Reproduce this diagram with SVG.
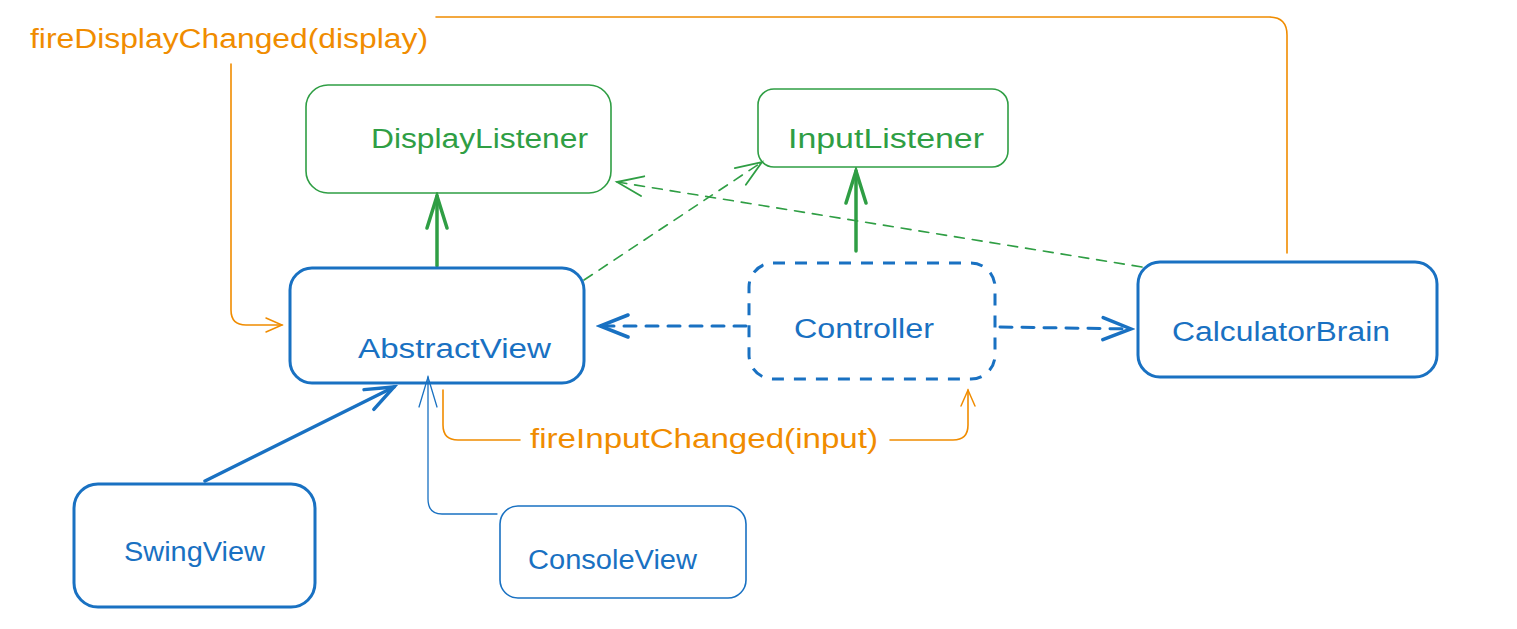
<svg xmlns="http://www.w3.org/2000/svg" width="1517" height="629" viewBox="0 0 1517 629">
<defs>
<style>
.txt{font-family:"Liberation Sans","DejaVu Sans",sans-serif;font-size:27px}
.b{fill:#1971c2}.g{fill:#2f9e44}.o{fill:#f08c00}
.box{fill:none;stroke-linejoin:round}
.line{fill:none;stroke-linecap:round;stroke-linejoin:round}
</style>
<marker id="aO" markerUnits="userSpaceOnUse" viewBox="-20 -12 24 24" refX="0" refY="0" markerWidth="24" markerHeight="24" orient="auto"><path d="M-16,-7 L0,0 L-16,7" fill="none" stroke="#f08c00" stroke-width="1.5" stroke-linecap="round"/></marker>
<marker id="aGt" markerUnits="userSpaceOnUse" viewBox="-36 -15 40 30" refX="0" refY="0" markerWidth="40" markerHeight="30" orient="auto"><path d="M-32,-10 L0,0 L-32,10" fill="none" stroke="#2f9e44" stroke-width="3.5" stroke-linecap="round"/></marker>
<marker id="aGd" markerUnits="userSpaceOnUse" viewBox="-30 -15 34 30" refX="0" refY="0" markerWidth="34" markerHeight="30" orient="auto"><path d="M-26,-10 L0,0 L-26,10" fill="none" stroke="#2f9e44" stroke-width="1.8" stroke-linecap="round"/></marker>
<marker id="aBt" markerUnits="userSpaceOnUse" viewBox="-34 -16 38 32" refX="0" refY="0" markerWidth="38" markerHeight="32" orient="auto"><path d="M-28,-11 L0,0 L-28,11" fill="none" stroke="#1971c2" stroke-width="3.5" stroke-linecap="round"/></marker>
<marker id="aBn" markerUnits="userSpaceOnUse" viewBox="-34 -16 38 32" refX="0" refY="0" markerWidth="38" markerHeight="32" orient="auto"><path d="M-30,-9 L0,0 L-30,9" fill="none" stroke="#1971c2" stroke-width="1.3" stroke-linecap="round"/></marker>
</defs>
<rect width="1517" height="629" fill="#ffffff"/>

<g id="connectors">
  <path class="line" d="M1287,253 L1287,35 Q1287,17 1269,17 L436,17" stroke="#f08c00" stroke-width="1.6"/>
  <path class="line" d="M231,64 L231,310 Q231,325 246,325 L282,325" stroke="#f08c00" stroke-width="1.6" marker-end="url(#aO)"/>
  <text class="txt o" x="30" y="48" textLength="398" lengthAdjust="spacingAndGlyphs">fireDisplayChanged(display)</text>
  <path class="line" d="M443,390 L443,425 Q443,440 458,440 L520,440" stroke="#f08c00" stroke-width="1.6"/>
  <path class="line" d="M890,440 L953,440 Q968,440 968,425 L968,390" stroke="#f08c00" stroke-width="1.6" marker-end="url(#aO)"/>
  <text class="txt o" x="530" y="448" textLength="348" lengthAdjust="spacingAndGlyphs">fireInputChanged(input)</text>
  <path class="line" d="M437,266 L437,196" stroke="#2f9e44" stroke-width="3.5" marker-end="url(#aGt)"/>
  <path class="line" d="M856,251 L856,171" stroke="#2f9e44" stroke-width="3.5" marker-end="url(#aGt)"/>
  <path class="line" d="M584,280 L762,162" stroke="#2f9e44" stroke-width="1.6" stroke-dasharray="10 8" marker-end="url(#aGd)"/>
  <path class="line" d="M1142,267 L617,182" stroke="#2f9e44" stroke-width="1.6" stroke-dasharray="10 8" marker-end="url(#aGd)"/>
  <path class="line" d="M746,326 L600,326" stroke="#1971c2" stroke-width="3" stroke-dasharray="12 10" marker-end="url(#aBt)"/>
  <path class="line" d="M1000,327 L1131,329" stroke="#1971c2" stroke-width="3" stroke-dasharray="12 10" marker-end="url(#aBt)"/>
  <path class="line" d="M205,481 L394,387" stroke="#1971c2" stroke-width="3.5" marker-end="url(#aBt)"/>
  <path class="line" d="M497,514 L442,514 Q428,514 428,499 L428,377" stroke="#1971c2" stroke-width="1.3" marker-end="url(#aBn)"/>
</g>

<g id="DisplayListener">
  <rect class="box" x="306" y="85" width="305" height="108" rx="22" stroke="#2f9e44" stroke-width="1.6"/>
  <text class="txt g" x="371" y="148" textLength="217" lengthAdjust="spacingAndGlyphs">DisplayListener</text>
</g>
<g id="InputListener">
  <rect class="box" x="758" y="89" width="250" height="78" rx="16" stroke="#2f9e44" stroke-width="1.6"/>
  <text class="txt g" x="788" y="148" textLength="196" lengthAdjust="spacingAndGlyphs">InputListener</text>
</g>
<g id="AbstractView">
  <rect class="box" x="290" y="268" width="294" height="115" rx="22" stroke="#1971c2" stroke-width="3"/>
  <text class="txt b" x="358" y="358" textLength="193" lengthAdjust="spacingAndGlyphs">AbstractView</text>
</g>
<g id="Controller">
  <rect class="box" x="749" y="263" width="246" height="116" rx="24" stroke="#1971c2" stroke-width="3" stroke-dasharray="12 10"/>
  <text class="txt b" x="794" y="338" textLength="140" lengthAdjust="spacingAndGlyphs">Controller</text>
</g>
<g id="CalculatorBrain">
  <rect class="box" x="1138" y="262" width="299" height="115" rx="22" stroke="#1971c2" stroke-width="3"/>
  <text class="txt b" x="1172" y="341" textLength="218" lengthAdjust="spacingAndGlyphs">CalculatorBrain</text>
</g>
<g id="SwingView">
  <rect class="box" x="74" y="484" width="241" height="123" rx="24" stroke="#1971c2" stroke-width="3"/>
  <text class="txt b" x="124" y="561" textLength="141" lengthAdjust="spacingAndGlyphs">SwingView</text>
</g>
<g id="ConsoleView">
  <rect class="box" x="500" y="506" width="246" height="92" rx="18" stroke="#1971c2" stroke-width="1.6"/>
  <text class="txt b" x="528" y="569" textLength="169" lengthAdjust="spacingAndGlyphs">ConsoleView</text>
</g>
</svg>
